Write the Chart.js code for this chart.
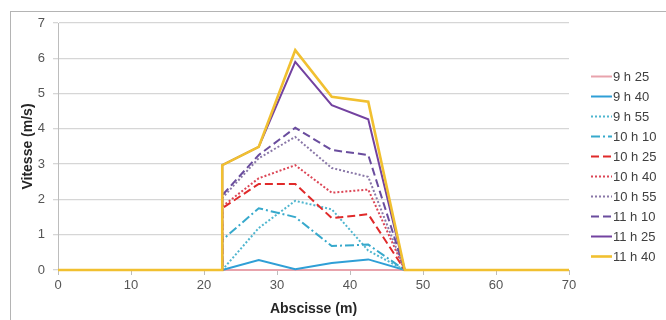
<!DOCTYPE html>
<html><head><meta charset="utf-8">
<script src="https://cdn.jsdelivr.net/npm/chart.js@4.4.1/dist/chart.umd.min.js"></script>
<style>html,body{margin:0;padding:0;background:#fff}#wrap{width:666px;height:320px;position:relative}</style>
</head><body><div id="wrap"><canvas id="c" width="666" height="320"></canvas></div>
<script>
// Abscisses (m)
const abscisses = [0, 22.5, 22.5, 27.5, 32.5, 37.5, 42.5, 47.5, 70];
const heures = ["9 h 25","9 h 40","9 h 55","10 h 10","10 h 25","10 h 40","10 h 55","11 h 10","11 h 25","11 h 40"];
const v0925 = [0, 0, 0, 0, 0, 0, 0, 0, 0];
const v0940 = [0, 0, 0, 0.28, 0.02, 0.20, 0.30, 0, 0];
const v0955 = [0, 0, 0, 1.19, 1.96, 1.72, 0.55, 0, 0];
const v1010 = [0, 0, 0.85, 1.75, 1.50, 0.68, 0.72, 0, 0];
const v1025 = [0, 0, 1.75, 2.44, 2.44, 1.47, 1.58, 0, 0];
const v1040 = [0, 0, 1.80, 2.60, 2.97, 2.19, 2.28, 0, 0];
const v1055 = [0, 0, 2.04, 3.17, 3.77, 2.89, 2.64, 0, 0];
const v1110 = [0, 0, 2.12, 3.26, 4.03, 3.40, 3.26, 0, 0];
const v1125 = [0, 0, 2.97, 3.49, 5.90, 4.67, 4.27, 0, 0];
const v1140 = [0, 0, 2.97, 3.49, 6.23, 4.91, 4.77, 0, 0];
const xTicks = [0,10,20,30,40,50,60,70];
const yTicks = [0,1,2,3,4,5,6,7];

const series = [v0925,v0940,v0955,v1010,v1025,v1040,v1055,v1110,v1125,v1140];
const styles = [
  {c:'#E8A3AC', w:2, d:[]},
  {c:'#2F9FD6', w:2, d:[]},
  {c:'#4FB6CF', w:2, d:[2,2]},
  {c:'#37A9CC', w:2, d:[9,3,2,3]},
  {c:'#E02A2A', w:2, d:[8,4]},
  {c:'#DC4656', w:2, d:[2,2]},
  {c:'#8A78A8', w:2, d:[2,2]},
  {c:'#6A4D9E', w:2, d:[8,4]},
  {c:'#7342A0', w:2, d:[]},
  {c:'#F1C030', w:2.6, d:[]}
];
const datasets = series.map((vals,i)=>({
  label: heures[i],
  data: vals.map((v,k)=>({x:abscisses[k], y:v})),
  borderColor: styles[i].c,
  backgroundColor: styles[i].c,
  borderWidth: styles[i].w,
  borderDash: styles[i].d,
  pointRadius: 0,
  tension: 0,
  fill: false,
  clip: 6,
  order: 9 - i
}));

const FONT = "'Liberation Sans', Arial, sans-serif";

const frame = {
  id:'frame',
  beforeDraw(chart){
    const ctx = chart.ctx;
    ctx.save();
    ctx.fillStyle = '#fff';
    ctx.fillRect(0,0,chart.width,chart.height);
    ctx.strokeStyle = '#b4b4b4';
    ctx.lineWidth = 1;
    ctx.strokeRect(10.5, 11.5, 800, 400);
    ctx.restore();
  }
};

// legend drawn from the datasets themselves
const sideLegend = {
  id:'sideLegend',
  afterDraw(chart){
    const ctx = chart.ctx;
    ctx.save();
    ctx.font = '13px ' + FONT;
    ctx.textBaseline = 'middle';
    ctx.textAlign = 'left';
    chart.data.datasets.forEach((ds,i)=>{
      const y = 76 + i*20;
      ctx.beginPath();
      ctx.setLineDash(ds.borderDash || []);
      ctx.strokeStyle = ds.borderColor;
      ctx.lineWidth = ds.borderWidth;
      ctx.moveTo(591, y + 0.5);
      ctx.lineTo(612, y + 0.5);
      ctx.stroke();
      ctx.setLineDash([]);
      ctx.fillStyle = '#404040';
      ctx.fillText(ds.label, 613, y + 1);
    });
    ctx.restore();
  }
};

new Chart(document.getElementById('c'), {
  type: 'line',
  data: { datasets },
  plugins: [frame, sideLegend],
  options: {
    responsive: false,
    animation: false,
    layout: { padding: { left: 14, top: 23, right: 97, bottom: 0 } },
    plugins: {
      legend: { display: false },
      tooltip: { enabled: false }
    },
    scales: {
      x: {
        type: 'linear',
        min: 0, max: 70,
        afterBuildTicks: s => { s.ticks = xTicks.map(v=>({value:v})); },
        afterFit: s => { s.height = 50; },
        grid: { drawOnChartArea: false, drawTicks: true, tickLength: 5, color: '#bdbdbd' },
        border: { color: '#bdbdbd' },
        ticks: { color: '#555', font: { family: FONT, size: 13 }, padding: 3, maxRotation: 0 },
        title: { display: true, text: 'Abscisse (m)', color: '#262626', font: { family: FONT, size: 14, weight: 'bold' }, padding: { top: 0, bottom: 2 } }
      },
      y: {
        min: 0, max: 7,
        afterBuildTicks: s => { s.ticks = yTicks.map(v=>({value:v})); },
        afterFit: s => { s.width = 44; },
        grid: { color: '#d6d6d6', lineWidth: 1.3, tickLength: 5 },
        border: { color: '#bdbdbd' },
        ticks: { color: '#555', font: { family: FONT, size: 13 }, padding: 8 },
        title: { display: true, text: 'Vitesse (m/s)', color: '#262626', font: { family: FONT, size: 14, weight: 'bold' }, padding: { top: 6, bottom: 2 } }
      }
    }
  }
});
</script></body></html>
